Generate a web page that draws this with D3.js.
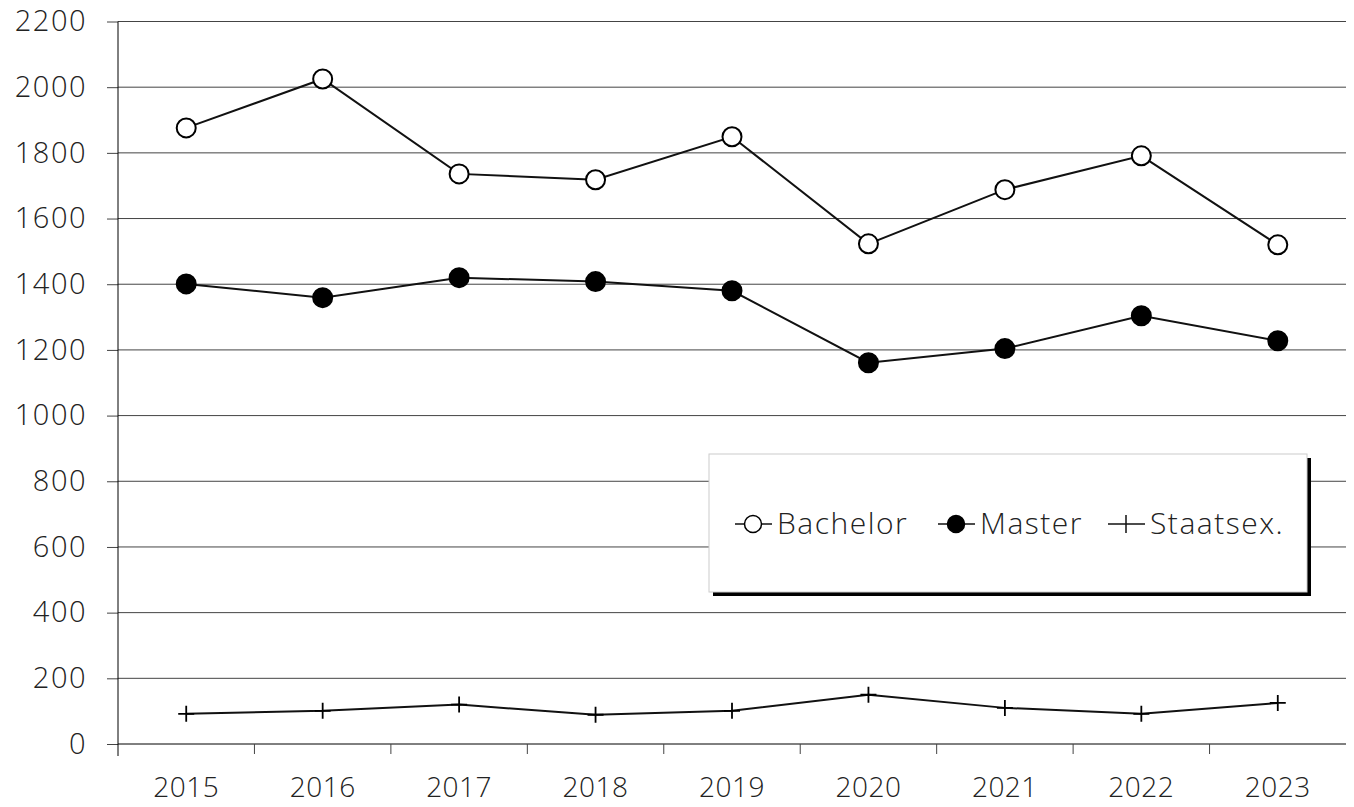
<!DOCTYPE html>
<html>
<head>
<meta charset="utf-8">
<script src="https://cdn.jsdelivr.net/npm/d3@7"></script>
<style>
  body { margin: 0; background: #fff; }
  text { font-family: "Open Sans", Lato, sans-serif; font-weight: 300; fill: #222; }
</style>
</head>
<body>
<div id="chart"></div>
<script>
// values
var years = ["2015", "2016", "2017", "2018", "2019", "2020", "2021", "2022", "2023"];
var bachelor = [1876, 2025, 1736, 1718, 1849, 1523, 1688, 1791, 1520];
var master = [1401, 1359, 1420, 1408, 1380, 1161, 1204, 1304, 1228];
var staatsex = [92, 101, 120, 89, 101, 150, 110, 92, 125];
var yTicks = [0, 200, 400, 600, 800, 1000, 1200, 1400, 1600, 1800, 2000, 2200];

var width = 1354, height = 807;
var margin = {top: 21.5, right: 8, bottom: 63, left: 118};

var svg = d3.select("#chart").append("svg")
  .attr("width", width)
  .attr("height", height);

var x = d3.scaleBand()
  .domain(years)
  .range([margin.left, width - margin.right]);

var y = d3.scaleLinear()
  .domain([0, 2200])
  .range([height - margin.bottom, margin.top]);

// horizontal gridlines + y labels
var yAxis = svg.append("g")
  .attr("transform", "translate(" + margin.left + ",0)")
  .call(d3.axisLeft(y).tickValues(yTicks).tickFormat(d3.format("d")).tickSize(11).tickPadding(20))
yAxis.select(".domain").remove();
yAxis.selectAll("line").attr("stroke", "#444");
yAxis.selectAll("text").style("font-size", "29px").style("letter-spacing", "1.5px").attr("fill", "#222");

svg.append("g").selectAll("line")
  .data(yTicks.filter(function(d){ return d > 0; }))
  .enter().append("line")
  .attr("x1", margin.left)
  .attr("x2", width - margin.right)
  .attr("y1", function(d){ return y(d); })
  .attr("y2", function(d){ return y(d); })
  .attr("stroke", "#444")
  .attr("stroke-width", 1);

// y axis line
svg.append("line")
  .attr("x1", margin.left).attr("x2", margin.left)
  .attr("y1", y(2200)).attr("y2", y(0) + 12)
  .attr("stroke", "#000");

// x axis with ticks between categories
var xAxisG = svg.append("g")
  .attr("transform", "translate(0," + y(0) + ")");
xAxisG.append("line")
  .attr("x1", margin.left).attr("x2", width - margin.right)
  .attr("stroke", "#000");
xAxisG.selectAll(".sep")
  .data(years.slice(1))
  .enter().append("line")
  .attr("class", "sep")
  .attr("x1", function(d){ return x(d); })
  .attr("x2", function(d){ return x(d); })
  .attr("y1", 0).attr("y2", 10)
  .attr("stroke", "#444");
xAxisG.selectAll(".lab")
  .data(years)
  .enter().append("text")
  .attr("x", function(d){ return x(d) + x.bandwidth() / 2; })
  .attr("y", 53)
  .attr("text-anchor", "middle")
  .style("font-size", "28px")
  .style("letter-spacing", "0.5px")
  .text(function(d){ return d; });

var cx = function(d, i){ return x(years[i]) + x.bandwidth() / 2; };
var line = d3.line()
  .x(function(d, i){ return cx(d, i); })
  .y(function(d){ return y(d); });

function drawSeries(vals, kind) {
  svg.append("path")
    .datum(vals)
    .attr("d", line)
    .attr("fill", "none")
    .attr("stroke", "#111")
    .attr("stroke-width", 2);
  if (kind === "plus") {
    var g = svg.append("g").selectAll("g").data(vals).enter().append("g")
      .attr("transform", function(d, i){ return "translate(" + cx(d, i) + "," + y(d) + ")"; });
    g.append("path").attr("d", "M-8,0H8M0,-8V8").attr("stroke", "#000").attr("stroke-width", 1.8);
  } else {
    svg.append("g").selectAll("circle").data(vals).enter().append("circle")
      .attr("cx", cx)
      .attr("cy", function(d){ return y(d); })
      .attr("r", 9.5)
      .attr("fill", kind === "open" ? "#fff" : "#000")
      .attr("stroke", "#000")
      .attr("stroke-width", 2);
  }
}
drawSeries(bachelor, "open");
drawSeries(master, "filled");
drawSeries(staatsex, "plus");

// legend
var lg = svg.append("g");
lg.append("rect").attr("x", 713).attr("y", 458).attr("width", 598).attr("height", 138).attr("fill", "#000");
lg.append("rect").attr("x", 709).attr("y", 454).attr("width", 598).attr("height", 138)
  .attr("fill", "#fff").attr("stroke", "#ccc").attr("stroke-width", 1);

var items = [
  {name: "Bachelor", kind: "open", x: 735},
  {name: "Master", kind: "filled", x: 938},
  {name: "Staatsex.", kind: "plus", x: 1108}
];
var ly = 524;
items.forEach(function(it) {
  lg.append("line").attr("x1", it.x).attr("x2", it.x + 37).attr("y1", ly).attr("y2", ly)
    .attr("stroke", "#111").attr("stroke-width", 1.5);
  if (it.kind === "plus") {
    lg.append("line").attr("x1", it.x + 18).attr("x2", it.x + 18).attr("y1", ly - 9).attr("y2", ly + 9)
      .attr("stroke", "#111").attr("stroke-width", 1.5);
  } else {
    lg.append("circle").attr("cx", it.x + 18).attr("cy", ly).attr("r", 8.5)
      .attr("fill", it.kind === "open" ? "#fff" : "#000")
      .attr("stroke", "#000").attr("stroke-width", 1.5);
  }
  lg.append("text").attr("x", it.x + 42).attr("y", ly + 10)
    .style("font-size", "30px").style("letter-spacing", "1.5px").text(it.name);
});
</script>
</body>
</html>
